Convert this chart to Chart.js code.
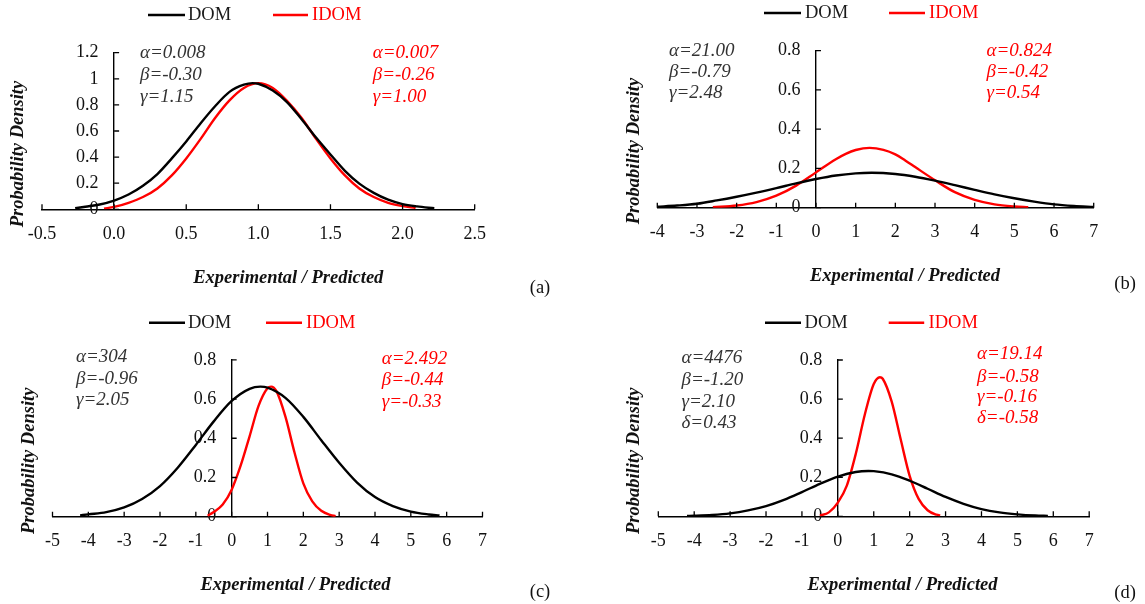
<!DOCTYPE html>
<html><head><meta charset="utf-8">
<script src="https://cdn.jsdelivr.net/npm/chart.js@4.4.1/dist/chart.umd.min.js"></script>
<style>
html,body{margin:0;padding:0;background:#fff;width:1145px;height:604px;overflow:hidden;}
canvas{position:absolute;}
</style></head><body>
<canvas id="cA" width="575" height="302" style="left:0;top:0"></canvas>
<canvas id="cB" width="570" height="302" style="left:575px;top:0"></canvas>
<canvas id="cC" width="575" height="302" style="left:0;top:302px"></canvas>
<canvas id="cD" width="570" height="302" style="left:575px;top:302px"></canvas>
<script>
// ---------- DATA ----------
const seriesNames = ['DOM', 'IDOM'];

// (a)
const domA_x = [-0.27,-0.2,-0.1,0,0.1,0.2,0.3,0.4,0.5,0.6,0.7,0.8,0.9,0.96,1.0,1.1,1.2,1.3,1.4,1.5,1.6,1.7,1.8,1.9,2.0,2.1,2.22];
const domA_y = [0.008,0.02,0.037,0.067,0.113,0.18,0.27,0.39,0.52,0.66,0.79,0.90,0.955,0.967,0.962,0.91,0.82,0.69,0.55,0.42,0.295,0.197,0.126,0.074,0.04,0.022,0.008];
const idomA_x = [-0.07,0,0.1,0.2,0.3,0.4,0.5,0.6,0.7,0.8,0.9,1.0,1.1,1.2,1.3,1.4,1.5,1.6,1.7,1.8,1.9,2.0,2.09];
const idomA_y = [0.005,0.018,0.05,0.094,0.16,0.26,0.39,0.54,0.70,0.835,0.93,0.967,0.93,0.83,0.70,0.54,0.39,0.26,0.16,0.094,0.05,0.025,0.01];
const xTicksA = ['-0.5','0.0','0.5','1.0','1.5','2.0','2.5'];
const yTicksA = ['0','0.2','0.4','0.6','0.8','1','1.2'];
const notesDomA = ['α=0.008','β=-0.30','γ=1.15'];
const notesIdomA = ['α=0.007','β=-0.26','γ=1.00'];

// (b)
const domB_x = [-4,-3.5,-3,-2.5,-2,-1.5,-1,-0.5,0,0.5,1,1.4,2,2.5,3,3.5,4,4.5,5,5.5,6,6.5,7];
const domB_y = [0.005,0.011,0.02,0.037,0.056,0.077,0.10,0.124,0.146,0.164,0.175,0.178,0.172,0.158,0.138,0.115,0.091,0.068,0.048,0.031,0.017,0.009,0.004];
const idomB_x = [-2.6,-2,-1.5,-1,-0.5,0,0.5,0.75,1,1.35,1.7,2,2.25,2.5,3,3.5,4,4.5,5,5.35];
const idomB_y = [0.002,0.011,0.0285,0.061,0.1125,0.18,0.247,0.2745,0.294,0.305,0.295,0.272,0.241,0.207,0.14,0.079,0.04,0.017,0.006,0.002];
const xTicksB = ['-4','-3','-2','-1','0','1','2','3','4','5','6','7'];
const yTicksB = ['0','0.2','0.4','0.6','0.8'];
const notesDomB = ['α=21.00','β=-0.79','γ=2.48'];
const notesIdomB = ['α=0.824','β=-0.42','γ=0.54'];

// (c)
const domC_x = [-4.23,-4,-3.5,-3,-2.5,-2,-1.5,-1,-0.5,0,0.5,0.8,1,1.5,2,2.5,3,3.5,4,4.5,5,5.5,5.8];
const domC_y = [0.007,0.012,0.023,0.047,0.09,0.156,0.251,0.366,0.486,0.59,0.652,0.663,0.658,0.606,0.509,0.39,0.275,0.174,0.10,0.054,0.026,0.0115,0.006];
const idomC_x = [-0.67,-0.5,-0.25,0,0.25,0.5,0.75,1.0,1.1,1.25,1.5,1.75,2.0,2.25,2.5,2.75,2.9];
const idomC_y = [0.005,0.024,0.062,0.138,0.26,0.41,0.565,0.655,0.663,0.64,0.51,0.33,0.17,0.078,0.03,0.009,0.003];
const xTicksC = ['-5','-4','-3','-2','-1','0','1','2','3','4','5','6','7'];
const yTicksC = ['0','0.2','0.4','0.6','0.8'];
const notesDomC = ['α=304','β=-0.96','γ=2.05'];
const notesIdomC = ['α=2.492','β=-0.44','γ=-0.33'];

// (d)
const domD_x = [-4.2,-4,-3.5,-3,-2.5,-2,-1.5,-1,-0.5,0,0.5,0.85,1,1.5,2,2.5,3,3.5,4,4.5,5,5.5,5.85];
const domD_y = [0.002,0.003,0.007,0.015,0.03,0.052,0.084,0.124,0.166,0.203,0.227,0.232,0.231,0.215,0.182,0.141,0.099,0.064,0.037,0.02,0.01,0.004,0.002];
const idomD_x = [-0.5,-0.25,0,0.25,0.5,0.75,1.0,1.17,1.25,1.5,1.75,2.0,2.25,2.5,2.75,2.85];
const idomD_y = [0.004,0.02,0.07,0.157,0.32,0.52,0.677,0.712,0.704,0.587,0.394,0.207,0.089,0.031,0.008,0.004];
const xTicksD = ['-5','-4','-3','-2','-1','0','1','2','3','4','5','6','7'];
const yTicksD = ['0','0.2','0.4','0.6','0.8'];
const notesDomD = ['α=4476','β=-1.20','γ=2.10','δ=0.43'];
const notesIdomD = ['α=19.14','β=-0.58','γ=-0.16','δ=-0.58'];

const xTitle = 'Experimental / Predicted';
const yTitle = 'Probability Density';
const panelTags = ['(a)','(b)','(c)','(d)'];

// ---------- STYLE / LAYOUT ----------
const SERIF = "'Liberation Serif','Times New Roman',serif";
const BLACK = '#000000', RED = '#ff0000';

// y-axis sits at x = 0; move its tick labels left of the axis line
const shiftY = {
  id: 'shiftY',
  beforeDraw(chart) {
    const items = chart.scales.y.getLabelItems();
    if (!items._shifted) {
      items.forEach(it => { it.options.translation[0] -= 15.5; });
      items._shifted = true;
    }
  }
};

const decor = {
  id: 'decor',
  afterDraw(chart, args, o) {
    const ctx = chart.ctx, ox = o.ox, oy = o.oy;
    const xs = chart.scales.x, ys = chart.scales.y;
    const x0 = xs.getPixelForValue(0), y0 = ys.getPixelForValue(0);
    ctx.save();
    // inside tick marks
    ctx.strokeStyle = '#000'; ctx.lineWidth = 1.3;
    ctx.beginPath();
    xs.ticks.forEach(t => { const p = xs.getPixelForValue(t.value); ctx.moveTo(p, y0); ctx.lineTo(p, y0 - 5); });
    ys.ticks.forEach(t => { const p = ys.getPixelForValue(t.value); ctx.moveTo(x0, p); ctx.lineTo(x0 + 5, p); });
    ctx.stroke();
    // legend
    ctx.textBaseline = 'middle'; ctx.textAlign = 'left';
    ctx.font = '18.5px ' + SERIF;
    chart.data.datasets.forEach((ds, i) => {
      const L = o.legend[i];
      ctx.strokeStyle = ds.borderColor; ctx.lineWidth = 2.6;
      ctx.beginPath(); ctx.moveTo(L.x1 - ox, L.y - oy); ctx.lineTo(L.x2 - ox, L.y - oy); ctx.stroke();
      ctx.fillStyle = i === 0 ? '#1a1a1a' : ds.borderColor;
      ctx.fillText(ds.label, L.tx - ox, L.y - oy);
    });
    // parameter notes
    ctx.font = 'italic 19px ' + SERIF;
    o.notes.forEach(n => {
      ctx.fillStyle = n.color;
      n.lines.forEach((s, k) => ctx.fillText(s, n.x - ox, n.ys[k] - oy));
    });
    // axis titles
    ctx.fillStyle = '#111';
    ctx.font = 'italic bold 18.5px ' + SERIF;
    ctx.textAlign = 'center';
    ctx.fillText(xTitle, o.xt[0] - ox, o.xt[1] - oy);
    ctx.save();
    ctx.translate(o.yt[0] - ox, o.yt[1] - oy); ctx.rotate(-Math.PI / 2);
    ctx.fillText(yTitle, 0, 0);
    ctx.restore();
    // panel tag
    ctx.font = '18.5px ' + SERIF;
    ctx.fillStyle = '#111';
    ctx.fillText(o.tag, o.tagPos[0] - ox, o.tagPos[1] - oy);
    ctx.restore();
  }
};

function pts(xs, ys) { return xs.map((x, i) => ({x: x, y: ys[i]})); }

function makePanel(p) {
  const [cx, cy, cw, ch] = p.canvas;
  const [L, T, R, B] = p.frame;
  const lineDs = (label, d, color) => ({label: label, data: pts(d[0], d[1]), showLine: true, borderColor: color,
    backgroundColor: color, borderWidth: 2.4, pointRadius: 0, cubicInterpolationMode: 'monotone', fill: false});
  new Chart(document.getElementById(p.id), {
    type: 'scatter',
    data: {datasets: [lineDs(seriesNames[0], p.dom, BLACK), lineDs(seriesNames[1], p.idom, RED)]},
    options: {
      responsive: false, animation: false, events: [], devicePixelRatio: 1,
      layout: {padding: {left: L - cx, top: T - cy, right: cx + cw - R, bottom: cy + ch - B}},
      plugins: {legend: {display: false}, tooltip: {enabled: false}, decor: p.decor},
      scales: {
        x: {type: 'linear', min: p.xr[0], max: p.xr[1], position: {y: 0},
            ticks: {stepSize: p.xr[2], autoSkip: false, maxRotation: 0, padding: 14, color: '#111',
                    font: {family: SERIF, size: 18}, callback: (v, i) => p.xLabels[i]},
            grid: {display: false, drawTicks: false},
            border: {display: true, color: '#000', width: 1.4}},
        y: {type: 'linear', min: 0, max: p.yr[0], position: {x: 0},
            ticks: {stepSize: p.yr[1], autoSkip: false, padding: 0, color: '#111',
                    font: {family: SERIF, size: 18}, callback: (v, i) => p.yLabels[i]},
            grid: {display: false, drawTicks: false},
            border: {display: true, color: '#000', width: 1.4}}
      }
    },
    plugins: [shiftY, decor]
  });
}

makePanel({id: 'cA', canvas: [0, 0, 575, 302], frame: [42, 52.7, 474.7, 209.3],
  dom: [domA_x, domA_y], idom: [idomA_x, idomA_y], xr: [-0.5, 2.5, 0.5], yr: [1.2, 0.2],
  xLabels: xTicksA, yLabels: yTicksA,
  decor: {ox: 0, oy: 0,
    legend: [{x1: 148, x2: 185, tx: 188, y: 15}, {x1: 273, x2: 308, tx: 312, y: 15}],
    notes: [{color: '#333', x: 140, ys: [53.3, 75, 96.7], lines: notesDomA},
            {color: RED, x: 372.7, ys: [53.3, 75, 96.7], lines: notesIdomA}],
    xt: [288.3, 278.3], yt: [18.3, 154], tag: panelTags[0], tagPos: [540, 288]}});

makePanel({id: 'cB', canvas: [575, 0, 570, 302], frame: [657.3, 50.7, 1093.7, 207.7],
  dom: [domB_x, domB_y], idom: [idomB_x, idomB_y], xr: [-4, 7, 1], yr: [0.8, 0.2],
  xLabels: xTicksB, yLabels: yTicksB,
  decor: {ox: 575, oy: 0,
    legend: [{x1: 764, x2: 801, tx: 805, y: 13}, {x1: 889, x2: 925, tx: 929, y: 13}],
    notes: [{color: '#333', x: 669, ys: [50.7, 72, 93.3], lines: notesDomB},
            {color: RED, x: 986.5, ys: [50.7, 72, 93.3], lines: notesIdomB}],
    xt: [905, 276], yt: [634.5, 151], tag: panelTags[1], tagPos: [1125, 284]}});

makePanel({id: 'cC', canvas: [0, 302, 575, 302], frame: [52.5, 359.8, 482.5, 516.7],
  dom: [domC_x, domC_y], idom: [idomC_x, idomC_y], xr: [-5, 7, 1], yr: [0.8, 0.2],
  xLabels: xTicksC, yLabels: yTicksC,
  decor: {ox: 0, oy: 302,
    legend: [{x1: 149, x2: 185, tx: 188, y: 322.7}, {x1: 266, x2: 302, tx: 306, y: 322.7}],
    notes: [{color: '#333', x: 76, ys: [357.3, 379, 400], lines: notesDomC},
            {color: RED, x: 381.7, ys: [359.3, 380.3, 401.7], lines: notesIdomC}],
    xt: [295.5, 585], yt: [29.3, 460.8], tag: panelTags[2], tagPos: [540, 592]}});

makePanel({id: 'cD', canvas: [575, 302, 570, 302], frame: [658.3, 360, 1089.2, 516.3],
  dom: [domD_x, domD_y], idom: [idomD_x, idomD_y], xr: [-5, 7, 1], yr: [0.8, 0.2],
  xLabels: xTicksD, yLabels: yTicksD,
  decor: {ox: 575, oy: 302,
    legend: [{x1: 765, x2: 801, tx: 804.6, y: 322.7}, {x1: 888.7, x2: 924.2, tx: 928.6, y: 322.7}],
    notes: [{color: '#333', x: 681.5, ys: [358.3, 380, 401.7, 423], lines: notesDomD},
            {color: RED, x: 977, ys: [354, 376.7, 397.3, 418.3], lines: notesIdomD}],
    xt: [902.5, 585], yt: [634.3, 460.8], tag: panelTags[3], tagPos: [1125, 593]}});
</script>
</body></html>
